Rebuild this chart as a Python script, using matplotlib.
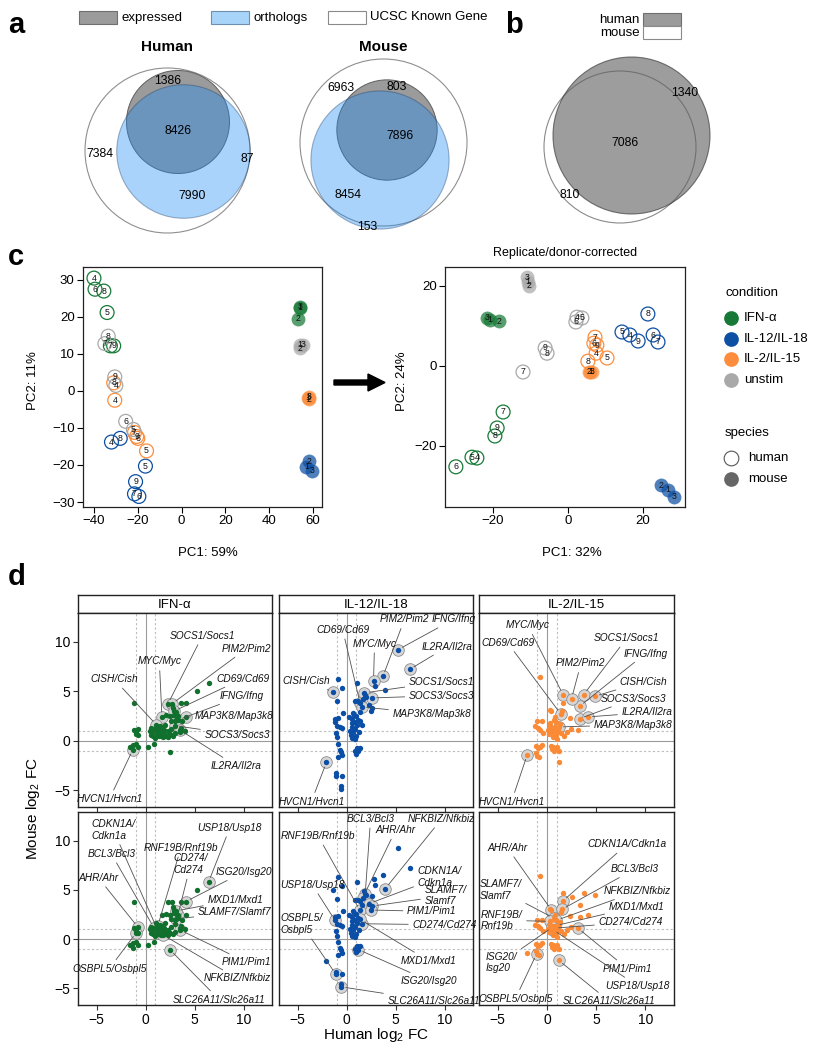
import matplotlib
matplotlib.use('Agg')
import matplotlib.pyplot as plt
from matplotlib.patches import Circle, Rectangle, FancyArrow
import numpy as np

plt.rcParams['font.family'] = ['Liberation Sans', 'DejaVu Sans']
plt.rcParams['mathtext.fontset'] = 'custom'
plt.rcParams['mathtext.rm'] = 'Liberation Sans'
plt.rcParams['mathtext.it'] = 'Liberation Sans:italic'

# ---------------- DATA ----------------
# Panel a: Venn region counts
venn_regions = ['expressed only', 'expressed & orthologs', 'known gene only',
                'orthologs only', 'orthologs outside known gene']
human_venn = [1386, 8426, 7384, 7990, 87]
mouse_venn = [803, 7896, 6963, 8454, 153]
# Panel b: expressed orthologs
b_regions = ['human only', 'both', 'mouse only']
b_counts = [1340, 7086, 810]

# Panel c: PCA
pc_conditions = ['IFN-α', 'IL-12/IL-18', 'IL-2/IL-15', 'unstim']
pc_cond = (['IFN-α'] * 9 + ['IL-12/IL-18'] * 9 + ['IL-2/IL-15'] * 9 + ['unstim'] * 9)
pc_species = (['human'] * 6 + ['mouse'] * 3) * 4
pc_donor = ([4, 5, 6, 7, 8, 9, 1, 2, 3]) * 4
pc1_raw = [-40, -34, -39.5, -32.5, -35.5, -31, 54, 53, 54,
           -32, -16.5, -19.5, -21.5, -28, -21, 57, 58, 59.5,
           -30.5, -16, -20, -21.5, -31, -20.5, 57.5, 58, 58,
           -30, -22, -25.5, -35, -33.5, -30.5, 54, 54, 55.5]
pc2_raw = [30.5, 21.2, 27.5, 12.2, 27, 12.2, 22.5, 19.5, 22.8,
           -13.8, -20.3, -28.5, -27.8, -12.8, -24.5, -20.5, -19, -21.5,
           -2.5, -16.2, -12.8, -11.2, 2.2, -12.3, -1.8, -2.2, -1.5,
           1.5, -10.4, -8.2, 12.8, 14.8, 3.8, 12.5, 11.5, 12.5]
pc1_corr = [-24.3, -25.6, -29.9, -17.3, -19.5, -18.9, -20.8, -18.4, -21.6,
            16.5, 14.4, 22.7, 24, 21.3, 18.7, 26.7, 24.8, 28.3,
            7.5, 10.4, 6.9, 7.2, 5.3, 7.7, 6.0, 5.5, 6.5,
            2.4, 3.7, 2.1, -12, -5.6, -6.1, -10.6, -10.4, -10.9]
pc2_corr = [-23, -22.8, -25.2, -11.5, -17.5, -15.5, 11.5, 11.2, 12,
            7.75, 8.5, 7.75, 6, 13, 6.25, -31, -29.75, -32.7,
            3.2, 2, 5.7, 7.2, 1.2, 5.2, -1.5, -1.5, -1.4,
            12.2, 12, 11, -1.5, 3.2, 4.5, 21, 20, 22.2]
pc_var_raw = [59, 11]
pc_var_corr = [32, 24]

# Panel d: log2 fold changes (human, mouse)
ifn_genes = ['SOCS1', 'PIM2', 'MYC', 'CISH', 'CD69', 'IFNG', 'MAP3K8', 'SOCS3', 'IL2RA', 'HVCN1',
             'CDKN1A', 'USP18', 'RNF19B', 'BCL3', 'CD274', 'MXD1', 'SLAMF7', 'ISG20', 'AHR',
             'OSBPL5', 'PIM1', 'NFKBIZ', 'SLC26A11'] + [''] * 46
ifn_human = [2.28, 2.69, 1.67, 1.1, 2.86, 3.3, 4.15, 2.96, 3.47, -1.3,
             1.1, 6.43, 1.25, 0.85, 3.3, 3.1, 3.15, 4.1, -0.78,
             -0.95, 3.55, 1.8, 2.5,
             -1.2, 5.25, 3.65, 2.8, 2.1, 2.5, 3.25, 3.05, 3.75, 2.6, 3.65, -1.2, -0.8, -1.0,
             -1.6, -1.3, -1.0, -0.75, 0.25, 0.85, 0.5, 0.7, 0.8, 1.0, 1.2, 1.35, 1.5, 1.6,
             1.85, 2.05, 2.25, 2.45, 0.6, 1.45, 0.95, 2.75, 3.0, 1.9, 2.3, 1.7, 2.0, 2.6,
             2.9, 0.4, 1.3, 4.0]
ifn_mouse = [3.72, 3.72, 2.4, 1.6, 2.97, 2.1, 2.4, 1.52, 1.1, -0.9,
             1.2, 5.8, 1.35, 1.15, 2.45, 2.85, 2.05, 3.8, 1.2,
             0.65, 0.9, 0.4, -1.1,
             3.8, 5.0, 3.8, 3.3, 2.55, 2.45, 2.4, 1.95, 1.95, 1.2, 1.3, 1.1, 0.6, 0.85,
             -0.6, -0.4, -0.35, -0.6, -0.65, -0.3, 0.6, 0.9, 0.5, 0.4, 0.8, 0.5, 0.9, 0.45,
             0.7, 0.5, 0.4, 0.65, 1.25, 1.45, 0.3, 0.5, 0.75, 1.1, 0.95, 1.3, 1.6, 2.0,
             2.6, 1.0, 1.0, 1.0]

il12_genes = ['IFNG', 'PIM2', 'MYC', 'IL2RA', 'CISH', 'SOCS1', 'SOCS3', 'MAP3K8', 'CD69', 'HVCN1',
              'NFKBIZ', 'BCL3', 'AHR', 'RNF19B', 'USP18', 'OSBPL5', 'CD274', 'MXD1', 'ISG20',
              'SLC26A11', 'CDKN1A', 'SLAMF7', 'PIM1'] + [''] * 45
il12_human = [5.26, 3.71, 2.75, 6.43, -1.37, 1.82, 2.58, 1.55, 1.37, -2.06,
              3.95, 1.9, 1.65, 1.37, -1.2, -1.1, 1.6, 1.35, 1.2,
              -0.58, 2.3, 2.6, 2.45,
              -0.86, -0.45, -1.03, 1.1, 0.86, 1.2, 1.96, 0.7, 1.0, 0.6, 0.8, 1.1, 0.5, 0.9,
              0.7, 0.4, 1.0, 0.6, 1.2, 0.8, 0.3, 0.9, 1.3, -1.2, -0.9, -1.0, -0.7, -0.5,
              -0.4, -1.0, -0.9, -0.6, -0.5, -0.9, -1.1, -0.5, -0.6, -0.7, -1.1, 1.1, 1.4, 0.9,
              1.0, 0.5, 0.2, 2.9]
il12_mouse = [9.2, 6.5, 6.08, 7.2, 4.93, 4.83, 4.32, 3.41, 3.82, -2.2,
              5.12, 4.6, 4.2, 2.9, 1.92, -3.57, 1.55, 2.0, -1.07,
              -4.85, 3.6, 3.35, 2.95,
              6.28, 5.34, 4.05, 5.78, 3.99, 4.0, 4.43, 2.8, 2.5, 2.2, 1.9, 1.6, 1.4, 1.2,
              0.9, 0.6, 0.5, 0.3, 2.1, 2.6, 1.0, 0.2, 0.9, 2.2, 2.3, 1.5, 1.4, 1.3,
              2.8, 0.35, -0.3, -1.1, -1.4, -1.6, -3.3, -3.6, -4.6, -0.9, 0.8, -0.75, -0.75, -1.0,
              -1.3, 1.8, 2.4, 5.5]

il2_genes = ['MYC', 'PIM2', 'SOCS1', 'CISH', 'IFNG', 'SOCS3', 'IL2RA', 'CD69', 'MAP3K8', 'HVCN1',
             'CDKN1A', 'BCL3', 'AHR', 'SLAMF7', 'RNF19B', 'NFKBIZ', 'MXD1', 'CD274', 'USP18',
             'ISG20', 'PIM1', 'SLC26A11', 'OSBPL5'] + [''] * 36
il2_human = [1.63, 2.5, 3.73, 4.85, 3.32, 3.32, 4.14, 1.4, 1.19, -2.0,
             1.6, 1.5, 0.44, 0.68, 0.35, 0.95, 0.85, 0.7, 0.6,
             0.55, 3.15, 1.19, -1.05,
             -0.71, 2.37, -1.05, -1.2, -0.88, -0.7, -0.54, -0.37, -1.1, -0.9, -0.7, -0.5,
             -1.1, -0.8, 0.3, 0.5, 0.9, 1.1, 1.4, 1.7, 0.6, 1.0, 2.0, 0.2, 1.3, 0.8,
             0.3, 0.4, 0.6, 0.8, 0.5, 1.0, 0.7, 1.2, 2.4, 0.15]
il2_mouse = [4.66, 4.26, 4.66, 4.49, 3.48, 2.23, 2.4, 2.7, 1.39, -1.42,
             3.85, 3.0, 2.96, 2.13, 1.8, 1.9, 1.35, 1.1, 0.95,
             1.2, 1.1, -2.16, -1.5,
             6.45, 2.3, 1.96, 1.45, 1.28, 1.1, 1.96, 0.78, -0.5, -0.75, -0.6, -0.4,
             -1.25, -1.66, 1.45, 0.85, 0.6, 1.0, 0.8, 0.5, 0.4, 0.2, 0.9, 0.7, 1.7, 2.4,
             3.1, -0.5, -0.6, -0.75, -0.8, -0.6, -1.0, -1.0, 1.2, 1.05]

d_conditions = ['IFN-α', 'IL-12/IL-18', 'IL-2/IL-15']

# labelled genes per panel: (gene, label, label x, label y)
d_labels = {
    'IFN-α': [
        [('SOCS1', 'SOCS1/Socs1', 5.8, 10.6), ('PIM2', 'PIM2/Pim2', 10.3, 9.3),
         ('MYC', 'MYC/Myc', 1.4, 8.0), ('CISH', 'CISH/Cish', -3.2, 6.2),
         ('CD69', 'CD69/Cd69', 9.9, 6.25), ('IFNG', 'IFNG/Ifng', 9.8, 4.5),
         ('MAP3K8', 'MAP3K8/Map3k8', 9.0, 2.45), ('SOCS3', 'SOCS3/Socs3', 9.35, 0.6),
         ('IL2RA', 'IL2RA/Il2ra', 9.25, -2.55), ('HVCN1', 'HVCN1/Hvcn1', -3.7, -5.9)],
        [('CDKN1A', 'CDKN1A/\nCdkn1a', -3.3, 11.1), ('USP18', 'USP18/Usp18', 8.6, 11.3),
         ('RNF19B', 'RNF19B/Rnf19b', 3.6, 9.25), ('BCL3', 'BCL3/Bcl3', -3.5, 8.65),
         ('CD274', 'CD274/\nCd274', 4.6, 7.6), ('ISG20', 'ISG20/Isg20', 10.0, 6.8),
         ('AHR', 'AHR/Ahr', -4.8, 6.2), ('MXD1', 'MXD1/Mxd1', 9.15, 4.0),
         ('SLAMF7', 'SLAMF7/Slamf7', 9.1, 2.7), ('OSBPL5', 'OSBPL5/Osbpl5', -3.7, -3.0),
         ('PIM1', 'PIM1/Pim1', 10.3, -2.35), ('NFKBIZ', 'NFKBIZ/Nfkbiz', 9.35, -4.0),
         ('SLC26A11', 'SLC26A11/Slc26a11', 7.5, -6.15)]],
    'IL-12/IL-18': [
        [('PIM2', 'PIM2/Pim2', 5.9, 12.25), ('IFNG', 'IFNG/Ifng', 10.9, 12.25),
         ('CD69', 'CD69/Cd69', -0.4, 11.2), ('MYC', 'MYC/Myc', 2.85, 9.8),
         ('IL2RA', 'IL2RA/Il2ra', 10.3, 9.5), ('CISH', 'CISH/Cish', -4.1, 6.0),
         ('SOCS1', 'SOCS1/Socs1', 9.7, 5.95), ('SOCS3', 'SOCS3/Socs3', 9.7, 4.55),
         ('MAP3K8', 'MAP3K8/Map3k8', 8.7, 2.7), ('HVCN1', 'HVCN1/Hvcn1', -3.6, -6.15)],
        [('BCL3', 'BCL3/Bcl3', 2.45, 12.2), ('NFKBIZ', 'NFKBIZ/Nfkbiz', 9.7, 12.2),
         ('AHR', 'AHR/Ahr', 5.0, 11.05), ('RNF19B', 'RNF19B/Rnf19b', -2.9, 10.45),
         ('CDKN1A', 'CDKN1A/\nCdkn1a', 9.5, 6.3), ('USP18', 'USP18/Usp18', -3.5, 5.5),
         ('SLAMF7', 'SLAMF7/\nSlamf7', 10.1, 4.4), ('PIM1', 'PIM1/Pim1', 8.7, 2.8),
         ('OSBPL5', 'OSBPL5/\nOsbpl5', -4.6, 1.5), ('CD274', 'CD274/Cd274', 10.0, 1.45),
         ('MXD1', 'MXD1/Mxd1', 8.35, -2.2), ('ISG20', 'ISG20/Isg20', 8.4, -4.25),
         ('SLC26A11', 'SLC26A11/Slc26a11', 8.9, -6.3)]],
    'IL-2/IL-15': [
        [('MYC', 'MYC/Myc', -1.95, 11.65), ('CD69', 'CD69/Cd69', -4.0, 9.9),
         ('SOCS1', 'SOCS1/Socs1', 8.1, 10.35), ('IFNG', 'IFNG/Ifng', 10.0, 8.8),
         ('PIM2', 'PIM2/Pim2', 3.45, 7.8), ('CISH', 'CISH/Cish', 9.8, 5.95),
         ('SOCS3', 'SOCS3/Socs3', 8.8, 4.25), ('IL2RA', 'IL2RA/Il2ra', 10.15, 2.85),
         ('MAP3K8', 'MAP3K8/Map3k8', 8.75, 1.6), ('HVCN1', 'HVCN1/Hvcn1', -3.6, -6.15)],
        [('CDKN1A', 'CDKN1A/Cdkn1a', 8.1, 9.6), ('AHR', 'AHR/Ahr', -4.0, 9.25),
         ('BCL3', 'BCL3/Bcl3', 8.9, 7.1), ('SLAMF7', 'SLAMF7/\nSlamf7', -4.7, 4.95),
         ('NFKBIZ', 'NFKBIZ/Nfkbiz', 9.2, 4.85), ('MXD1', 'MXD1/Mxd1', 9.1, 3.3),
         ('RNF19B', 'RNF19B/\nRnf19b', -4.6, 1.9), ('CD274', 'CD274/Cd274', 8.5, 1.7),
         ('ISG20', 'ISG20/\nIsg20', -4.6, -2.37), ('PIM1', 'PIM1/Pim1', 8.15, -3.0),
         ('USP18', 'USP18/Usp18', 9.2, -4.75), ('OSBPL5', 'OSBPL5/Osbpl5', -3.2, -6.05),
         ('SLC26A11', 'SLC26A11/Slc26a11', 6.3, -6.3)]],
}

# ---------------- STYLE ----------------
cond_colors = {'IFN-α': '#167a36', 'IL-12/IL-18': '#0d4fa3',
               'IL-2/IL-15': '#fd8d3c', 'unstim': '#a9a9a9'}
d_colors = {'IFN-α': '#12702e', 'IL-12/IL-18': '#0b4ea6', 'IL-2/IL-15': '#fb8a37'}

W, H = 819, 1050
fig = plt.figure(figsize=(W / 100, H / 100), dpi=100)


def ax_px(l, t, r, b):
    return fig.add_axes([l / W, 1 - b / H, (r - l) / W, (b - t) / H])


ov = ax_px(0, 0, W, H)
ov.set_xlim(0, W)
ov.set_ylim(H, 0)
ov.axis('off')

# panel letters
for letter, x, y in [('a', 8, 33), ('b', 505, 33), ('c', 8, 265), ('d', 8, 585)]:
    ov.text(x, y, letter, fontsize=21, fontweight='bold', va='baseline', ha='left')

# ---------------- Panel a ----------------
legend_items = [('expressed', '#9b9b9b', '#6f6f6f'), ('orthologs', '#a9d4f9', '#6f8fae'),
                ('UCSC Known Gene', 'white', '#8a8a8a')]
for (lab, fc, ec), x0 in zip(legend_items, [79, 211, 328]):
    ov.add_patch(Rectangle((x0, 11), 38, 13, fc=fc, ec=ec, lw=0.8))
    ov.text(x0 + 42, 17.5, lab, fontsize=9.5, va='center', ha='left')


def draw_venn3(counts, centers, rmax, title, title_x, label_pos):
    expressed = counts[0] + counts[1]
    orthologs = counts[1] + counts[3] + counts[4]
    known = counts[0] + counts[1] + counts[2] + counts[3]
    nmax = max(expressed, orthologs, known)
    rk, re, ro = [rmax * np.sqrt(n / nmax) for n in (known, expressed, orthologs)]
    ov.add_patch(Circle(centers[0], rk, fc='white', ec='#8f8f8f', lw=0.8))
    ov.add_patch(Circle(centers[1], re, fc='#9b9b9b', ec='#5f5f5f', lw=0.7))
    ov.add_patch(Circle(centers[2], ro, fc=(0.12, 0.55, 0.95), alpha=0.38,
                        ec='#1c3c66', lw=0.8))
    ov.text(title_x, 47, title, fontsize=11, fontweight='bold', ha='center', va='center')
    for n, (x, y) in zip(counts, label_pos):
        ov.text(x, y, str(n), fontsize=8.8, ha='center', va='center')


draw_venn3(human_venn, [(167.5, 150.5), (178, 122), (183.5, 151.5)], 82.5, 'Human', 167,
           [(168, 81), (178, 131), (100, 154), (192, 196), (247, 159)])
draw_venn3(mouse_venn, [(383.5, 142.5), (387, 130), (380, 160)], 83.5, 'Mouse', 383,
           [(397, 87), (400, 136), (341, 88), (348, 195), (367, 227)])

# ---------------- Panel b ----------------
ov.add_patch(Rectangle((643, 13), 38, 13, fc='#9b9b9b', ec='#6f6f6f', lw=0.8))
ov.add_patch(Rectangle((643, 26), 38, 13, fc='white', ec='#8a8a8a', lw=0.8))
ov.text(640, 20, 'human', fontsize=9.5, ha='right', va='center')
ov.text(640, 33, 'mouse', fontsize=9.5, ha='right', va='center')
n_h = b_counts[0] + b_counts[1]
n_m = b_counts[1] + b_counts[2]
rb = 78.5
ov.add_patch(Circle((620, 147), rb * np.sqrt(n_m / n_h), fc='white', ec='#8a8a8a', lw=0.8))
ov.add_patch(Circle((631.5, 135.5), rb, fc=(0.38, 0.38, 0.38), alpha=0.62,
                    ec='#303030', lw=0.8))
for n, (x, y) in zip(b_counts, [(685, 93), (625, 143), (570, 195)]):
    ov.text(x, y, str(n), fontsize=8.8, ha='center', va='center')

# ---------------- Panel c ----------------


def pca_plot(ax, xs, ys, xlim, ylim, xticks, yticks):
    for sp in ('human', 'mouse'):
        for i in range(len(xs)):
            if pc_species[i] != sp:
                continue
            col = cond_colors[pc_cond[i]]
            if sp == 'human':
                ax.scatter(xs[i], ys[i], s=100, facecolors='none', edgecolors=col, lw=0.9, zorder=3)
            else:
                ax.scatter(xs[i], ys[i], s=100, c=col, alpha=0.72, lw=0, zorder=2)
            ax.text(xs[i], ys[i], str(pc_donor[i]), fontsize=6.3, ha='center', va='center',
                    color='#111111', zorder=4)
    ax.set_xlim(*xlim)
    ax.set_ylim(*ylim)
    ax.set_xticks(xticks)
    ax.set_yticks(yticks)
    ax.set_xticklabels([str(t).replace('-', '\u2212') for t in xticks])
    ax.set_yticklabels([str(t).replace('-', '\u2212') for t in yticks])
    ax.tick_params(labelsize=9.5, length=4, width=0.8, pad=2)
    for s in ax.spines.values():
        s.set_linewidth(0.9)
        s.set_color('#222222')


axc1 = ax_px(83, 267, 322, 507)
pca_plot(axc1, pc1_raw, pc2_raw, (-45, 64.1), (-31.35, 33.5),
         [-40, -20, 0, 20, 40, 60], [-30, -20, -10, 0, 10, 20, 30])
axc2 = ax_px(445, 267, 685, 507)
pca_plot(axc2, pc1_corr, pc2_corr, (-32.8, 31.2), (-35.25, 24.75),
         [-20, 0, 20], [-20, 0, 20])

ov.text(208, 553, f'PC1: {pc_var_raw[0]}%', fontsize=9.5, ha='center', va='center')
ov.text(33, 381, f'PC2: {pc_var_raw[1]}%', fontsize=9.5, ha='center', va='center', rotation=90)
ov.text(572, 553, f'PC1: {pc_var_corr[0]}%', fontsize=9.5, ha='center', va='center')
ov.text(402, 381, f'PC2: {pc_var_corr[1]}%', fontsize=9.5, ha='center', va='center', rotation=90)
ov.text(565, 253, 'Replicate/donor-corrected', fontsize=9, ha='center', va='center')
ov.add_patch(FancyArrow(334, 382.5, 51, 0, width=5, head_width=17, head_length=17,
                        length_includes_head=True, color='black'))

# legend c
ov.text(725, 293, 'condition', fontsize=9.5, ha='left', va='center')
for c, y in zip(pc_conditions, [318, 339, 359, 380]):
    ov.scatter(731, y, s=112, c=cond_colors[c], lw=0)
    ov.text(744, y, c, fontsize=9.5, ha='left', va='center')
ov.text(725, 433, 'species', fontsize=9.5, ha='left', va='center')
ov.scatter(731, 458, s=112, facecolors='white', edgecolors='#555555', lw=0.8)
ov.text(748, 458, 'human', fontsize=9.5, ha='left', va='center')
ov.scatter(731, 479, s=112, c='#666666', lw=0)
ov.text(748, 479, 'mouse', fontsize=9.5, ha='left', va='center')

# ---------------- Panel d ----------------
d_data = {'IFN-α': (ifn_genes, ifn_human, ifn_mouse),
          'IL-12/IL-18': (il12_genes, il12_human, il12_mouse),
          'IL-2/IL-15': (il2_genes, il2_human, il2_mouse)}
col_x = [(78, 272), (279, 473), (479, 674)]
row_y = [(613, 807), (812, 1005)]
ticks_d = [-5, 0, 5, 10]
tick_lab = [str(t).replace('-', '\u2212') for t in ticks_d]

for ci, cond in enumerate(d_conditions):
    l, r = col_x[ci]
    st = ax_px(l, 595, r, 613)
    st.set_xticks([])
    st.set_yticks([])
    for s in st.spines.values():
        s.set_linewidth(1.0)
        s.set_color('#222222')
    st.text(0.5, 0.47, cond, fontsize=9.5, ha='center', va='center', transform=st.transAxes)
    genes, hx, my = d_data[cond]
    for ri in range(2):
        t, b = row_y[ri]
        ax = ax_px(l, t, r, b)
        ax.set_xlim(-6.9, 12.9)
        ax.set_ylim(-6.7, 12.9)
        ax.axvline(0, color='#9a9a9a', lw=0.8, zorder=1)
        ax.axhline(0, color='#9a9a9a', lw=0.8, zorder=1)
        for v in (-1, 1):
            ax.axvline(v, color='#bdbdbd', lw=0.8, ls=(0, (2, 2)), zorder=1)
            ax.axhline(v, color='#bdbdbd', lw=0.8, ls=(0, (2, 2)), zorder=1)
        ax.scatter(hx, my, s=15, c=d_colors[cond], lw=0, zorder=3)
        for gene, lab, tx, ty in d_labels[cond][ri]:
            gi = genes.index(gene)
            gx, gy = hx[gi], my[gi]
            ax.scatter([gx], [gy], s=70, fc='#d6d6d6', ec='#8c8c8c', lw=0.6, zorder=2)
            ax.annotate(lab, xy=(gx, gy), xytext=(tx, ty), fontsize=7.3, style='italic',
                        ha='center', va='center', multialignment='left', color='#111111',
                        arrowprops=dict(arrowstyle='-', color='#505050', lw=0.6,
                                        shrinkA=1, shrinkB=3.5), zorder=4)
        ax.set_xticks(ticks_d)
        ax.set_yticks(ticks_d)
        ax.set_xticklabels(tick_lab)
        ax.set_yticklabels(tick_lab)
        ax.tick_params(labelsize=10, length=3.5, width=0.8, pad=2, color='#333333')
        if ri == 0:
            ax.tick_params(labelbottom=False)
        if ci > 0:
            ax.tick_params(left=False, labelleft=False)
        for s in ax.spines.values():
            s.set_linewidth(1.0)
            s.set_color('#222222')

ov.text(376, 1035, 'Human log$_2$ FC', fontsize=11, ha='center', va='center')
ov.text(33, 809, 'Mouse log$_2$ FC', fontsize=11, ha='center', va='center', rotation=90)

fig.savefig('out.png', dpi=100)
